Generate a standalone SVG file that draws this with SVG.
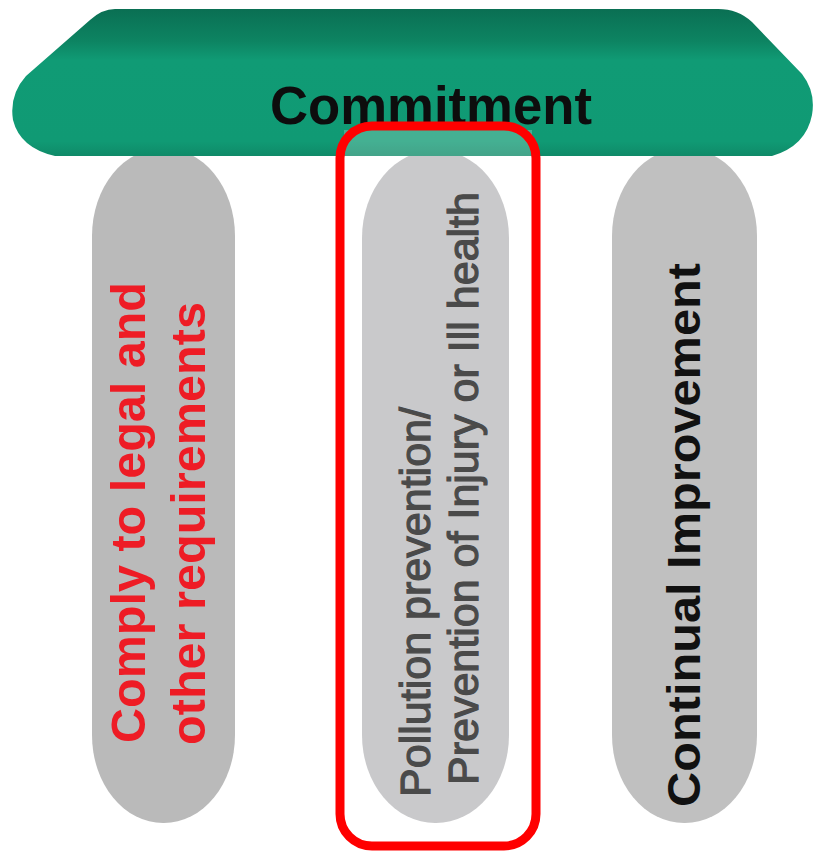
<svg xmlns="http://www.w3.org/2000/svg" width="815" height="851" viewBox="0 0 815 851">
  <defs>
    <linearGradient id="green" x1="0" y1="0" x2="0" y2="1">
      <stop offset="0" stop-color="#0a6f53"/>
      <stop offset="0.22" stop-color="#0d8462"/>
      <stop offset="0.35" stop-color="#109b75"/>
      <stop offset="0.9" stop-color="#109a74"/>
      <stop offset="1" stop-color="#0f8a68"/>
    </linearGradient>
    <style>
      .pillar { stroke: none; }
      .t { font-family: "Liberation Sans", Arial, sans-serif; }
      .bold { font-weight: bold; }
      .mid { fill: #4a4a4a; stroke: #4a4a4a; stroke-width: 1.2; }
    </style>
  </defs>
  <rect width="815" height="851" fill="#ffffff"/>

  <g id="pillar-left">
    <rect class="pillar" x="92" y="148" width="143" height="675" rx="71" ry="88" fill="#bababa"/>
    <text class="t bold" font-size="48.5" fill="#ee1c25" transform="translate(145,743) rotate(-90)" textLength="461" lengthAdjust="spacingAndGlyphs">Comply to legal and</text>
    <text class="t bold" font-size="48.5" fill="#ee1c25" transform="translate(205,745) rotate(-90)" textLength="443" lengthAdjust="spacingAndGlyphs">other requirements</text>
  </g>

  <g id="pillar-middle">
    <rect class="pillar" x="362" y="150" width="147" height="673" rx="73" ry="88" fill="#c9c9cb"/>
    <text class="t mid" font-size="42" transform="translate(430,797) rotate(-90)" textLength="390" lengthAdjust="spacingAndGlyphs">Pollution prevention/</text>
    <text class="t mid" font-size="42" transform="translate(478,785) rotate(-90)" textLength="593" lengthAdjust="spacingAndGlyphs">Prevention of Injury or Ill health</text>
  </g>

  <g id="pillar-right">
    <rect class="pillar" x="612" y="148" width="145" height="675" rx="72" ry="88" fill="#c0c0c0"/>
    <text class="t bold" font-size="46" fill="#111111" transform="translate(700,807) rotate(-90)" textLength="544" lengthAdjust="spacingAndGlyphs">Continual Improvement</text>
  </g>

  <g id="commitment">
    <path d="M 115 9 L 718 9 Q 738 9 752 22 L 802 74 Q 816 92 812 115 Q 806 146 772 156 L 55 156 Q 20 148 13 120 Q 9 95 26 76 L 90 20 Q 102 9 115 9 Z" fill="url(#green)"/>
    <text class="t bold" x="431" y="124" font-size="53" fill="#0d0d0d" text-anchor="middle" textLength="322" lengthAdjust="spacingAndGlyphs">Commitment</text>
  </g>

  <g id="highlight">
    <rect x="344" y="130" width="188" height="26" fill="#ffffff" opacity="0.22"/>
    <rect x="340" y="126" width="196" height="720" rx="32" ry="32" fill="none" stroke="#ff0000" stroke-width="9"/>
  </g>
</svg>
